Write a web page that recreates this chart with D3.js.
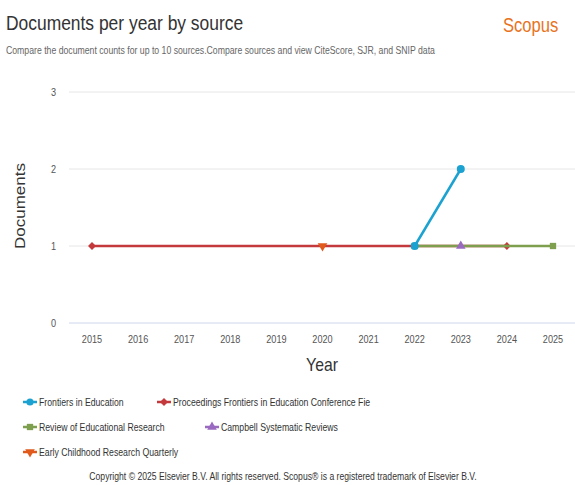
<html>
<head>
<style>
  body { margin: 0; background: #fff; }
  text { font-family: "Liberation Sans", Arial, sans-serif; }
</style>
<script src="https://cdn.jsdelivr.net/npm/d3@7"></script>
</head>
<body>
<svg id="chart" width="575" height="485"></svg>
<script>
const years = [2015, 2016, 2017, 2018, 2019, 2020, 2021, 2022, 2023, 2024, 2025];
const yTicks = [0, 1, 2, 3];

// documents per year, only years with documents
const proceedingsFie = [[2015, 1], [2024, 1]];
const earlyChildhood = [[2020, 1]];
const reviewEducational = [[2022, 1], [2025, 1]];
const campbell = [[2023, 1]];
const frontiers = [[2022, 1], [2023, 2]];

const series = [
  { name: "Proceedings Frontiers in Education Conference Fie", data: proceedingsFie, color: "#c4393c", symbol: d3.symbolDiamond2 },
  { name: "Early Childhood Research Quarterly", data: earlyChildhood, color: "#e05a1c", symbol: d3.symbolTriangle, flip: true },
  { name: "Review of Educational Research", data: reviewEducational, color: "#7e9f4e", symbol: d3.symbolSquare },
  { name: "Campbell Systematic Reviews", data: campbell, color: "#9a6ac0", symbol: d3.symbolTriangle },
  { name: "Frontiers in Education", data: frontiers, color: "#1ba2d1", symbol: d3.symbolCircle }
];

const SQ = 0.83; // the screenshot is squeezed horizontally
const at = (px, py) => `translate(${px},${py}) scale(${SQ},1)`;

const svg = d3.select("#chart");

svg.append("text").attr("transform", at(6, 30))
  .attr("font-size", 21).attr("fill", "#333").text("Documents per year by source");
svg.append("text").attr("transform", at(6, 54))
  .attr("font-size", 10.5).attr("fill", "#666")
  .text("Compare the document counts for up to 10 sources.Compare sources and view CiteScore, SJR, and SNIP data");
svg.append("text").attr("transform", at(503, 32))
  .attr("font-family", "'Open Sans', sans-serif")
  .attr("font-size", 20).attr("fill", "#e8731e").text("Scopus");

const x = d3.scalePoint().domain(years).range([92, 553]);
const y = d3.scaleLinear().domain([0, 3]).range([323, 92]);

// grid
svg.append("g").selectAll("line").data(yTicks).join("line")
  .attr("x1", 69).attr("x2", 575)
  .attr("y1", d => y(d)).attr("y2", d => y(d))
  .attr("stroke", d => d === 0 ? "#ccd6eb" : "#e6e6e6").attr("stroke-width", 1);

svg.append("g").selectAll("text").data(yTicks).join("text")
  .attr("transform", d => at(56, y(d) + 4)).attr("text-anchor", "end")
  .attr("font-size", 11).attr("fill", "#555").text(d => d);

svg.append("g").selectAll("text").data(years).join("text")
  .attr("transform", d => at(x(d), 343)).attr("text-anchor", "middle")
  .attr("font-size", 11).attr("fill", "#555").text(d => d);

svg.append("text").attr("transform", at(322, 371)).attr("text-anchor", "middle")
  .attr("font-size", 19).attr("fill", "#333").text("Year");
svg.append("text").attr("transform", "translate(25,206) scale(0.83,1) rotate(-90)").attr("text-anchor", "middle")
  .attr("font-size", 17).attr("fill", "#333").text("Documents");

const line = d3.line().x(d => x(d[0])).y(d => y(d[1]));

series.forEach(s => {
  const g = svg.append("g");
  if (s.data.length > 1) {
    g.append("path").attr("d", line(s.data)).attr("fill", "none")
      .attr("stroke", s.color).attr("stroke-width", 2.5);
  }
  g.selectAll("path.m").data(s.data).join("path").attr("class", "m")
    .attr("d", d3.symbol().type(s.symbol).size(s.symbol === d3.symbolCircle ? 50 : 40))
    .attr("transform", d => `translate(${x(d[0])},${y(d[1])})${s.flip ? " rotate(180)" : ""}`)
    .attr("fill", s.color);
});

// legend
const legendItems = [
  { s: series[4], x: 23, y: 402 },
  { s: series[0], x: 157, y: 402 },
  { s: series[2], x: 23, y: 427 },
  { s: series[3], x: 205, y: 427 },
  { s: series[1], x: 23, y: 452 }
];
legendItems.forEach(it => {
  const g = svg.append("g").attr("transform", `translate(${it.x},${it.y})`);
  g.append("line").attr("x1", 0).attr("x2", 14).attr("stroke", it.s.color).attr("stroke-width", 2.5);
  g.append("path").attr("d", d3.symbol().type(it.s.symbol).size(40)())
    .attr("transform", `translate(7,0)${it.s.flip ? " rotate(180)" : ""}`).attr("fill", it.s.color);
  g.append("text").attr("transform", at(16, 4)).attr("font-size", 10.5).attr("fill", "#333").text(it.s.name);
});

svg.append("text").attr("transform", at(283, 480)).attr("text-anchor", "middle")
  .attr("font-size", 10.4).attr("fill", "#333")
  .text("Copyright © 2025 Elsevier B.V. All rights reserved. Scopus® is a registered trademark of Elsevier B.V.");
</script>
</body>
</html>
